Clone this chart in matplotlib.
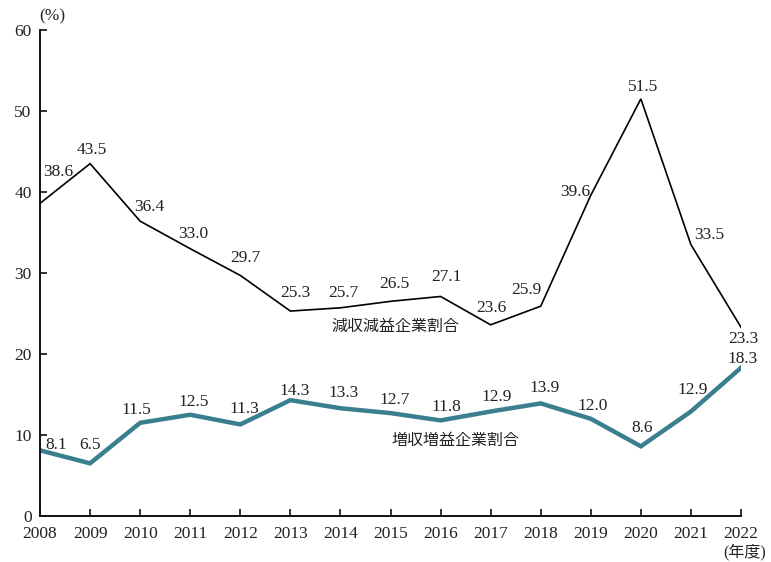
import matplotlib
matplotlib.use('Agg')
import matplotlib.pyplot as plt

# fiscal years and shares of companies (%)
years = list(range(2008, 2023))
decline_share = [38.6, 43.5, 36.4, 33.0, 29.7, 25.3, 25.7, 26.5, 27.1, 23.6, 25.9, 39.6, 51.5, 33.5, 23.3]
growth_share = [8.1, 6.5, 11.5, 12.5, 11.3, 14.3, 13.3, 12.7, 11.8, 12.9, 13.9, 12.0, 8.6, 12.9, 18.3]
decline_name = '減収減益企業割合'
growth_name = '増収増益企業割合'

# where each value label sits relative to its point (pixels)
decline_offsets = [(18, 31), (2, 14), (9, 14), (3, 15), (5, 17), (5, 18), (3, 15), (4, 17),
                   (6, 19), (1, 17), (-14, 16), (-16, 3), (2, 12), (18, 10), (2, -12)]
growth_offsets = [(16, 5), (0, 18), (-4, 13), (3, 13), (4, 15), (4, 9), (3, 15), (4, 13),
                  (6, 13), (6, 14), (4, 15), (2, 13), (1, 18), (2, 21), (2, 9)]

FONT = ['Liberation Serif', 'Noto Sans CJK JP', 'DejaVu Sans']
plt.rcParams['font.family'] = FONT
TEAL = '#3a7f8e'
INK = '#222222'
NUM_SIZE = 12.5

fig = plt.figure(figsize=(7.71, 5.62), dpi=100)
ax = fig.add_axes([0.0519, 0.0819, 0.9092, 0.8647])

ax.plot(years, decline_share, color='black', lw=1.2, solid_joinstyle='miter')
ax.plot(years, growth_share, color=TEAL, lw=3.2, solid_joinstyle='miter')

for x, v, (dx, dy) in zip(years, decline_share, decline_offsets):
    ax.annotate('{:.1f}'.format(v), (x, v), xytext=(dx, dy), textcoords='offset pixels',
                ha='center', va='center', fontsize=NUM_SIZE, color=INK, clip_on=False)
for x, v, (dx, dy) in zip(years, growth_share, growth_offsets):
    ax.annotate('{:.1f}'.format(v), (x, v), xytext=(dx, dy), textcoords='offset pixels',
                ha='center', va='center', fontsize=NUM_SIZE, color=INK, clip_on=False)

ax.text(2015.1, 23.3, decline_name, ha='center', va='center', fontsize=11.5, color=INK)
ax.text(2016.3, 9.2, growth_name, ha='center', va='center', fontsize=11.5, color=INK)

ax.set_xlim(2008, 2022)
ax.set_ylim(0, 60)
ax.set_xticks(years)
ax.set_yticks(range(0, 61, 10))
ax.tick_params(direction='in', length=5, width=1.3, labelsize=NUM_SIZE, colors=INK)
ax.tick_params(axis='x', pad=7)
ax.tick_params(axis='y', pad=6)
for side in ['top', 'right']:
    ax.spines[side].set_visible(False)
for side in ['left', 'bottom']:
    ax.spines[side].set_linewidth(1.4)
    ax.spines[side].set_color('#111111')

fig.text(0.068, 0.970, '(%)', ha='center', va='center', fontsize=NUM_SIZE, color=INK)
fig.text(0.966, 0.018, '(年度)', ha='center', va='center', fontsize=11.5, color=INK)

fig.savefig('out.png', dpi=100)
